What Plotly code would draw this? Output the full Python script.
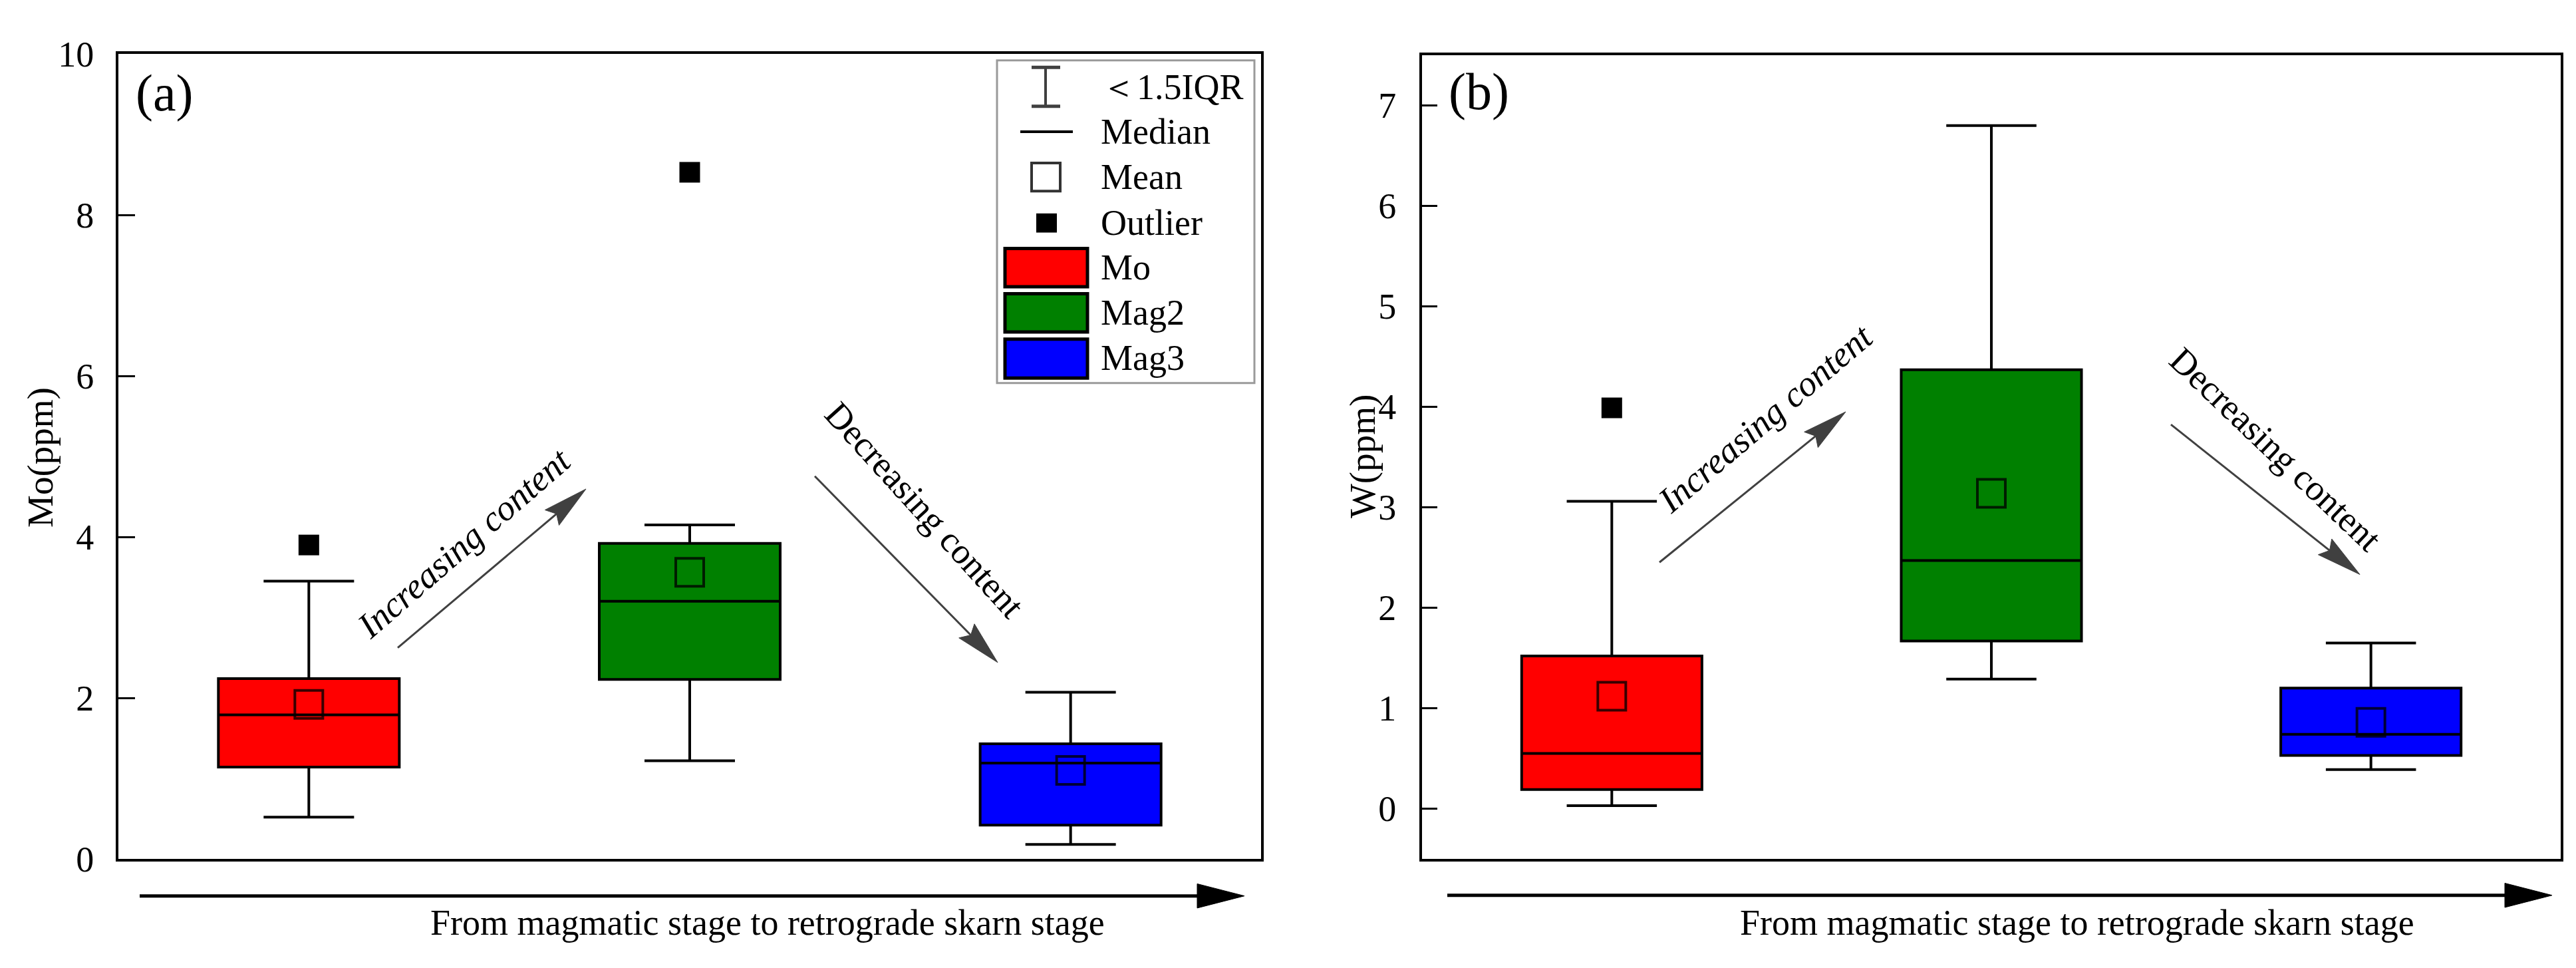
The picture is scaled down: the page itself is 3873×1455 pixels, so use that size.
import math
import plotly.graph_objects as go

# ---------------- data ----------------
categories = ["Mo", "Mag2", "Mag3"]
box_colors = ["#FF0000", "#008000", "#0000FF"]

# panel (a): Mo content (ppm)
mo_q1 = [1.14, 2.23, 0.42]
mo_median = [1.79, 3.20, 1.19]
mo_q3 = [2.24, 3.92, 1.43]
mo_lower = [0.52, 1.22, 0.18]
mo_upper = [3.45, 4.15, 2.07]
mo_mean = [1.92, 3.56, 1.10]
mo_outlier_x = ["Mo", "Mag2"]
mo_outlier_y = [3.90, 8.53]

# panel (b): W content (ppm)
w_q1 = [0.19, 1.67, 0.53]
w_median = [0.55, 2.47, 0.74]
w_q3 = [1.52, 4.37, 1.20]
w_lower = [0.03, 1.29, 0.39]
w_upper = [3.06, 6.80, 1.65]
w_mean = [1.12, 3.14, 0.86]
w_outlier_x = ["Mo"]
w_outlier_y = [3.99]

legend_labels = ["\uff1c1.5IQR", "Median", "Mean", "Outlier", "Mo", "Mag2", "Mag3"]
stage_text = "From magmatic stage to retrograde skarn stage"

# ---------------- layout helpers ----------------
W, H = 3873, 1455
FONT = "Liberation Serif, Times New Roman, Times, serif"
FS = 54


def X(p):
    return p / W


def Y(p):
    return 1 - p / H


fig = go.Figure()

panels = [
    dict(xa="x", ya="y", q1=mo_q1, med=mo_median, q3=mo_q3, lo=mo_lower, hi=mo_upper,
         mean=mo_mean, ox=mo_outlier_x, oy=mo_outlier_y),
    dict(xa="x2", ya="y2", q1=w_q1, med=w_median, q3=w_q3, lo=w_lower, hi=w_upper,
         mean=w_mean, ox=w_outlier_x, oy=w_outlier_y),
]

for p in panels:
    for i, cat in enumerate(categories):
        fig.add_trace(go.Box(
            x=[cat], q1=[p["q1"][i]], median=[p["med"][i]], q3=[p["q3"][i]],
            lowerfence=[p["lo"][i]], upperfence=[p["hi"][i]],
            fillcolor=box_colors[i], line=dict(color="black", width=4),
            width=0.475, whiskerwidth=0.5, boxpoints=False, showlegend=False,
            hoverinfo="skip", xaxis=p["xa"], yaxis=p["ya"],
        ))
    fig.add_trace(go.Scatter(
        x=categories, y=p["mean"], mode="markers", showlegend=False,
        marker=dict(symbol="square-open", size=42, color="rgba(0,0,0,0.78)",
                    line=dict(width=4)),
        xaxis=p["xa"], yaxis=p["ya"],
    ))
    fig.add_trace(go.Scatter(
        x=p["ox"], y=p["oy"], mode="markers", showlegend=False,
        marker=dict(symbol="square", size=31, color="black"),
        xaxis=p["xa"], yaxis=p["ya"],
    ))

axis_common = dict(showline=True, mirror=True, linecolor="black", linewidth=4,
                   showgrid=False, zeroline=False)

fig.update_layout(
    width=W, height=H, margin=dict(l=0, r=0, t=0, b=0),
    paper_bgcolor="white", plot_bgcolor="white", boxmode="overlay", showlegend=False,
    font=dict(family=FONT, color="black", size=FS),
    xaxis=dict(domain=[X(170), X(1888)], anchor="y", type="category",
               categoryorder="array", categoryarray=categories, range=[-0.5, 2.5],
               showticklabels=False, ticks="", **axis_common),
    yaxis=dict(domain=[Y(1308), Y(46)], anchor="x", range=[0, 10], dtick=2,
               ticks="inside", ticklen=25, tickwidth=3, tickcolor="black",
               tickfont=dict(family=FONT, size=FS, color="black"),
               ticklabelstandoff=22, **axis_common),
    xaxis2=dict(domain=[X(2130), X(3842)], anchor="y2", type="category",
                categoryorder="array", categoryarray=categories, range=[-0.5, 2.5],
                showticklabels=False, ticks="", **axis_common),
    yaxis2=dict(domain=[Y(1308), Y(48)], anchor="x2", range=[-0.5, 7.5], dtick=1,
                ticks="inside", ticklen=23, tickwidth=3, tickcolor="black",
                tickfont=dict(family=FONT, size=FS, color="black"),
                ticklabelstandoff=24, **axis_common),
)

shapes = []
annotations = []


def text(x, y, s, size=FS, angle=0, xanchor="center", italic=False):
    annotations.append(dict(
        x=X(x), y=Y(y), xref="paper", yref="paper", text=s, showarrow=False,
        textangle=angle, xanchor=xanchor, yanchor="middle",
        font=dict(family=FONT, size=size, color="black",
                  style="italic" if italic else "normal"),
    ))


def arrow(x0, y0, x1, y1, color, lw, hl, hw, notch):
    ux, uy = x1 - x0, y1 - y0
    L = math.hypot(ux, uy)
    ux, uy = ux / L, uy / L
    nx, ny = -uy, ux
    bx, by = x1 - (hl - notch) * ux, y1 - (hl - notch) * uy
    shapes.append(dict(type="line", xref="paper", yref="paper",
                       x0=X(x0), y0=Y(y0), x1=X(bx + ux * 2), y1=Y(by + uy * 2),
                       line=dict(color=color, width=lw)))
    pts = [(x1, y1),
           (x1 - hl * ux + hw * nx, y1 - hl * uy + hw * ny),
           (bx, by),
           (x1 - hl * ux - hw * nx, y1 - hl * uy - hw * ny)]
    path = "M " + " L ".join(f"{X(a):.6f},{Y(b):.6f}" for a, b in pts) + " Z"
    shapes.append(dict(type="path", xref="paper", yref="paper", path=path,
                       fillcolor=color, line=dict(color=color, width=1)))


# axis titles and panel labels
text(52, 679, "Mo(ppm)", size=55, angle=-90)
text(2040, 677, "W(ppm)", size=55, angle=-90)
text(239, 107, "(a)", size=78)
text(2215, 105, "(b)", size=78)

# trend arrows inside the panels
GREY = "#404040"
arrow(590, 977, 873, 728, GREY, 3, 68, 16, 9)
arrow(1217, 708, 1492, 1000, GREY, 3, 68, 16, 9)
arrow(2487, 843, 2767, 607, GREY, 3, 68, 16, 9)
arrow(3256, 627, 3540, 862, GREY, 3, 68, 16, 9)
text(690, 813, "Increasing content", angle=-40.9, italic=True)
text(1382, 760, "Decreasing content", angle=47.8)
text(2646, 617, "Increasing content", angle=-40.4, italic=True)
text(3413, 665, "Decreasing content", angle=43.6)

# stage arrows below the panels
arrow(202, 1366, 1863, 1366, "black", 5, 71, 19, 0)
arrow(2168, 1365, 3829, 1365, "black", 5, 71, 19, 0)
text(1146, 1408, stage_text)
text(3115, 1408, stage_text)

# custom legend (panel a)
shapes.append(dict(type="rect", xref="paper", yref="paper",
                   x0=X(1491), x1=X(1878), y0=Y(562), y1=Y(56),
                   line=dict(color="#9a9a9a", width=3), fillcolor="rgba(0,0,0,0)"))
# whisker icon
shapes.append(dict(type="line", xref="paper", yref="paper", x0=X(1564), x1=X(1564),
                   y0=Y(67), y1=Y(128), line=dict(color=GREY, width=4)))
for yy in (67, 128):
    shapes.append(dict(type="line", xref="paper", yref="paper", x0=X(1543), x1=X(1586),
                       y0=Y(yy), y1=Y(yy), line=dict(color=GREY, width=5)))
# median icon
shapes.append(dict(type="line", xref="paper", yref="paper", x0=X(1526), x1=X(1605),
                   y0=Y(168), y1=Y(168), line=dict(color="black", width=4)))
# mean icon
shapes.append(dict(type="rect", xref="paper", yref="paper", x0=X(1543), x1=X(1586),
                   y0=Y(261), y1=Y(217), line=dict(color="#333333", width=4),
                   fillcolor="white"))
# outlier icon
shapes.append(dict(type="rect", xref="paper", yref="paper", x0=X(1550), x1=X(1581),
                   y0=Y(326), y1=Y(296), line=dict(width=0), fillcolor="black"))
# colored boxes
for (top, bot), col in zip([(351, 411), (422, 482), (493, 554)], box_colors):
    shapes.append(dict(type="rect", xref="paper", yref="paper", x0=X(1503), x1=X(1627),
                       y0=Y(bot), y1=Y(top), line=dict(color="black", width=5),
                       fillcolor=col))
for lab, yy in zip(legend_labels, [98, 168, 239, 311, 381, 452, 523]):
    text(1645, yy, lab, xanchor="left")

fig.update_layout(shapes=shapes, annotations=annotations)
fig.write_html("out.html")
